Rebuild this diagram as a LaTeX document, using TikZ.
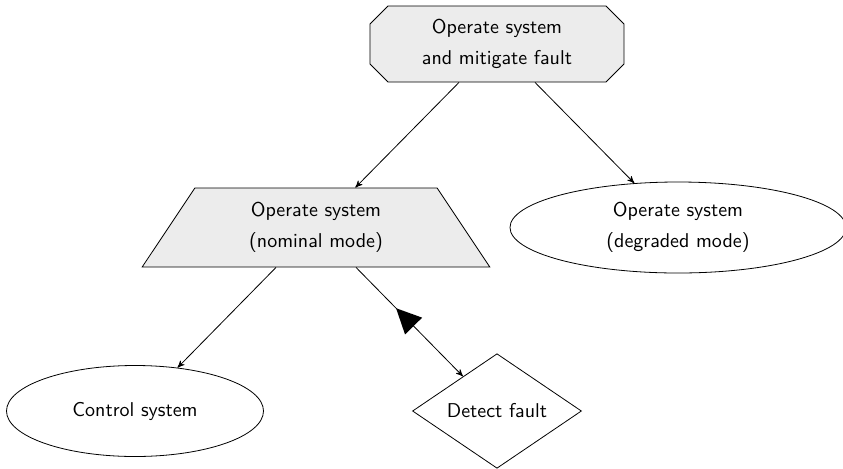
\documentclass[tikz,border=0pt]{standalone}
\usepackage{amsmath}
\usetikzlibrary{arrows}
\usetikzlibrary{shapes.geometric}
\usetikzlibrary{shapes.misc}
\usetikzlibrary{decorations.markings}

\begin{document}
\begin{tikzpicture}[x=90.5pt, y=-91.75pt, >=stealth',
    every node/.style={draw, font=\sffamily, align=center, inner sep=0pt},
    greybox/.style={fill=gray!15}]
      \useasboundingbox (-67.5pt,22pt) rectangle (354pt,-212pt);

      \node[chamfered rectangle, chamfered rectangle xsep=4.5pt, chamfered rectangle ysep=4.5pt,
        greybox, minimum width=127pt, minimum height=38pt] (op) at (2,0)
        {Operate system\\[3.5pt]and mitigate fault};
      \node[trapezium, trapezium left angle=60, trapezium right angle=60, trapezium stretches=true,
        greybox, minimum width=174.5pt, minimum height=39.5pt] (nom) at (1,1)
        {Operate system\\[3.5pt](nominal mode)};
      \node[ellipse, minimum width=168pt, minimum height=45.5pt] (deg) at (3,1)
        {Operate system\\[3.5pt](degraded mode)};
      \node[ellipse, minimum width=128.5pt, minimum height=45.5pt] (ctrl) at (0,2) {Control system};
      \node[diamond, minimum width=84.5pt, minimum height=56pt] (det) at (2,2) {Detect fault};

      \path[->] ([xshift=-19pt]op.south) edge (nom);
      \path[->] ([xshift=19pt]op.south) edge (deg);
      \path[->] ([xshift=-20pt]nom.south) edge (ctrl);
      \draw[->, postaction=decorate, decoration={markings,
        mark=at position .375 with {\fill (0,0) -- (12.5pt,6pt) -- (12.5pt,-6pt) -- cycle;}}]
        ([xshift=20pt]nom.south) -- (det);
    \end{tikzpicture}
\end{document}
